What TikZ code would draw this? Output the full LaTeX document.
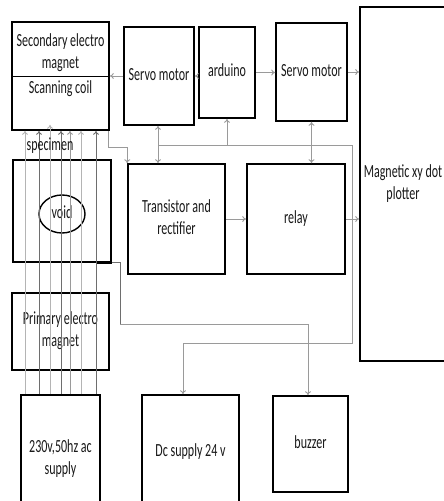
\documentclass[tikz,border=0pt]{standalone}
\usepackage{fontspec}
\setmainfont{Carlito}
\usetikzlibrary{arrows.meta,calc,shapes.geometric}
\newcommand{\tx}[1]{\scalebox{0.65}[1]{\begin{tabular}{@{}c@{}}#1\end{tabular}}}
\definecolor{lg}{HTML}{B4B4B4}
\definecolor{dg}{HTML}{6E6E6E}
\definecolor{cg}{HTML}{9A9A9A}
\tikzset{
  box/.style={draw=black, line width=1.6pt, minimum width=#1, inner sep=0pt, text=black!90,
    font=\fontsize{18.5}{22}\selectfont},
  conn/.style={draw=cg, line width=0.9pt},
  arr/.style={conn, -{To[length=4pt,width=6pt]}},
  arrb/.style={conn, {To[length=4pt,width=6pt]}-{To[length=4pt,width=6pt]}},
  lbl/.style={inner sep=0pt, text=black!90, font=\fontsize{18.5}{22}\selectfont}
}
\begin{document}
\begin{tikzpicture}[x=1pt,y=-1pt]
\useasboundingbox (0,0) rectangle (444,501);
\clip (0,0) rectangle (444,501);
\fill[white] (0,0) rectangle (444,501);
% boxes
\node[box=97pt, minimum height=108pt] (sec) at (60.5,76) {};
\draw[black, line width=0.9pt] (sec.west) -- (sec.east);
\node[lbl] (secT) at (60.5,53) {\tx{Secondary electro\\magnet}};
\node[lbl] (secB) at (60.5,89) {\tx{Scanning coil}};
\node[box=70pt, minimum height=98pt] (servoA) at (159,76) {\tx{Servo motor}};
\node[box=56pt, minimum height=91pt] (ard) at (227,72.5) {\tx{arduino}};
\node[box=71pt, minimum height=98pt] (servoB) at (311.5,72) {\tx{Servo motor}};
\node[box=96pt, minimum height=354pt] (plot) at (408,184) {};
\node[lbl] (plotl) at (403,184) {\tx{Magnetic xy dot\\plotter}};
\node[box=97pt, minimum height=110pt] (tr) at (176.5,219) {\tx{Transistor and\\rectifier}};
\node[box=98pt, minimum height=110pt] (relay) at (296,219) {\tx{relay}};
\node[box=98pt, minimum height=102pt] (spec) at (62,211) {};
\draw[black, line width=2.6pt] (spec.south east) -- ++(-15,0);
\node[lbl, draw=black, line width=1.4pt, ellipse, minimum width=46pt, minimum height=38pt, inner sep=0pt] (void) at (62,214) {\tx{void}};
\node[box=97pt, minimum height=77pt] (prim) at (60.5,331.5) {\tx{Primary electro\\magnet}};
\node[box=79pt, minimum height=128pt] (ac) at (60.5,459) {\tx{230v,50hz ac\\supply}};
\node[box=97pt, minimum height=115pt] (dc) at (190.5,452.5) {\tx{Dc supply 24 v}};
\node[box=75pt, minimum height=96pt] (buz) at (310.5,444) {\tx{buzzer}};
% field lines
\foreach \x/\c in {25/lg,39/dg,61/dg,70/cg,81/lg,96/dg}{
  \draw[draw=\c, line width=0.9pt, -{To[length=4pt,width=6pt]}] (ac.north -| \x,0) -- (sec.south -| \x,0);
}
\draw[draw=lg, line width=0.9pt, -{To[length=4pt,width=6pt]}] (ac.north -| 50,0) -- ([yshift=6pt]sec.south -| 50,0);
\node[lbl] (specl) at (50,146) {\tx{specimen}};
% connectors
\draw[arr] (servoA.west) -- (sec.east);
\draw[arr] (ard.west |- servoA.east) -- (servoA.east);
\draw[arr] (ard.east) -- (ard.east -| servoB.west);
\draw[arr] (servoB.east) -- (servoB.east -| plot.west);
\draw[arr] (tr.east) -- (relay.west);
\draw[arr] (relay.east) -- (relay.east -| plot.west);
\coordinate (j1) at (158,145);
\coordinate (j2) at (352,145);
\coordinate (j3) at (352,343);
\coordinate (j4) at (183,343);
\draw[arrb] (servoA.south -| j1) -- (tr.north -| j1);
\draw[conn] (j1) -- (j2) -- (j3) -- (j4);
\draw[arr] (j4) -- (dc.north -| j4);
\draw[arr] (ard.south |- j1) -- (ard.south);
\draw[arrb] (servoB.south) -- (servoB.south |- relay.north);
\draw[arr] ([xshift=-1pt]sec.south east) -- ++(0,17) -| (tr.north west);
\coordinate (k1) at (120,324);
\draw[conn, draw=dg, line width=0.8pt] (spec.south east) -| (k1);
\draw[arr] (k1) -| ([xshift=-2.5pt]buz.north);
\end{tikzpicture}
\end{document}
